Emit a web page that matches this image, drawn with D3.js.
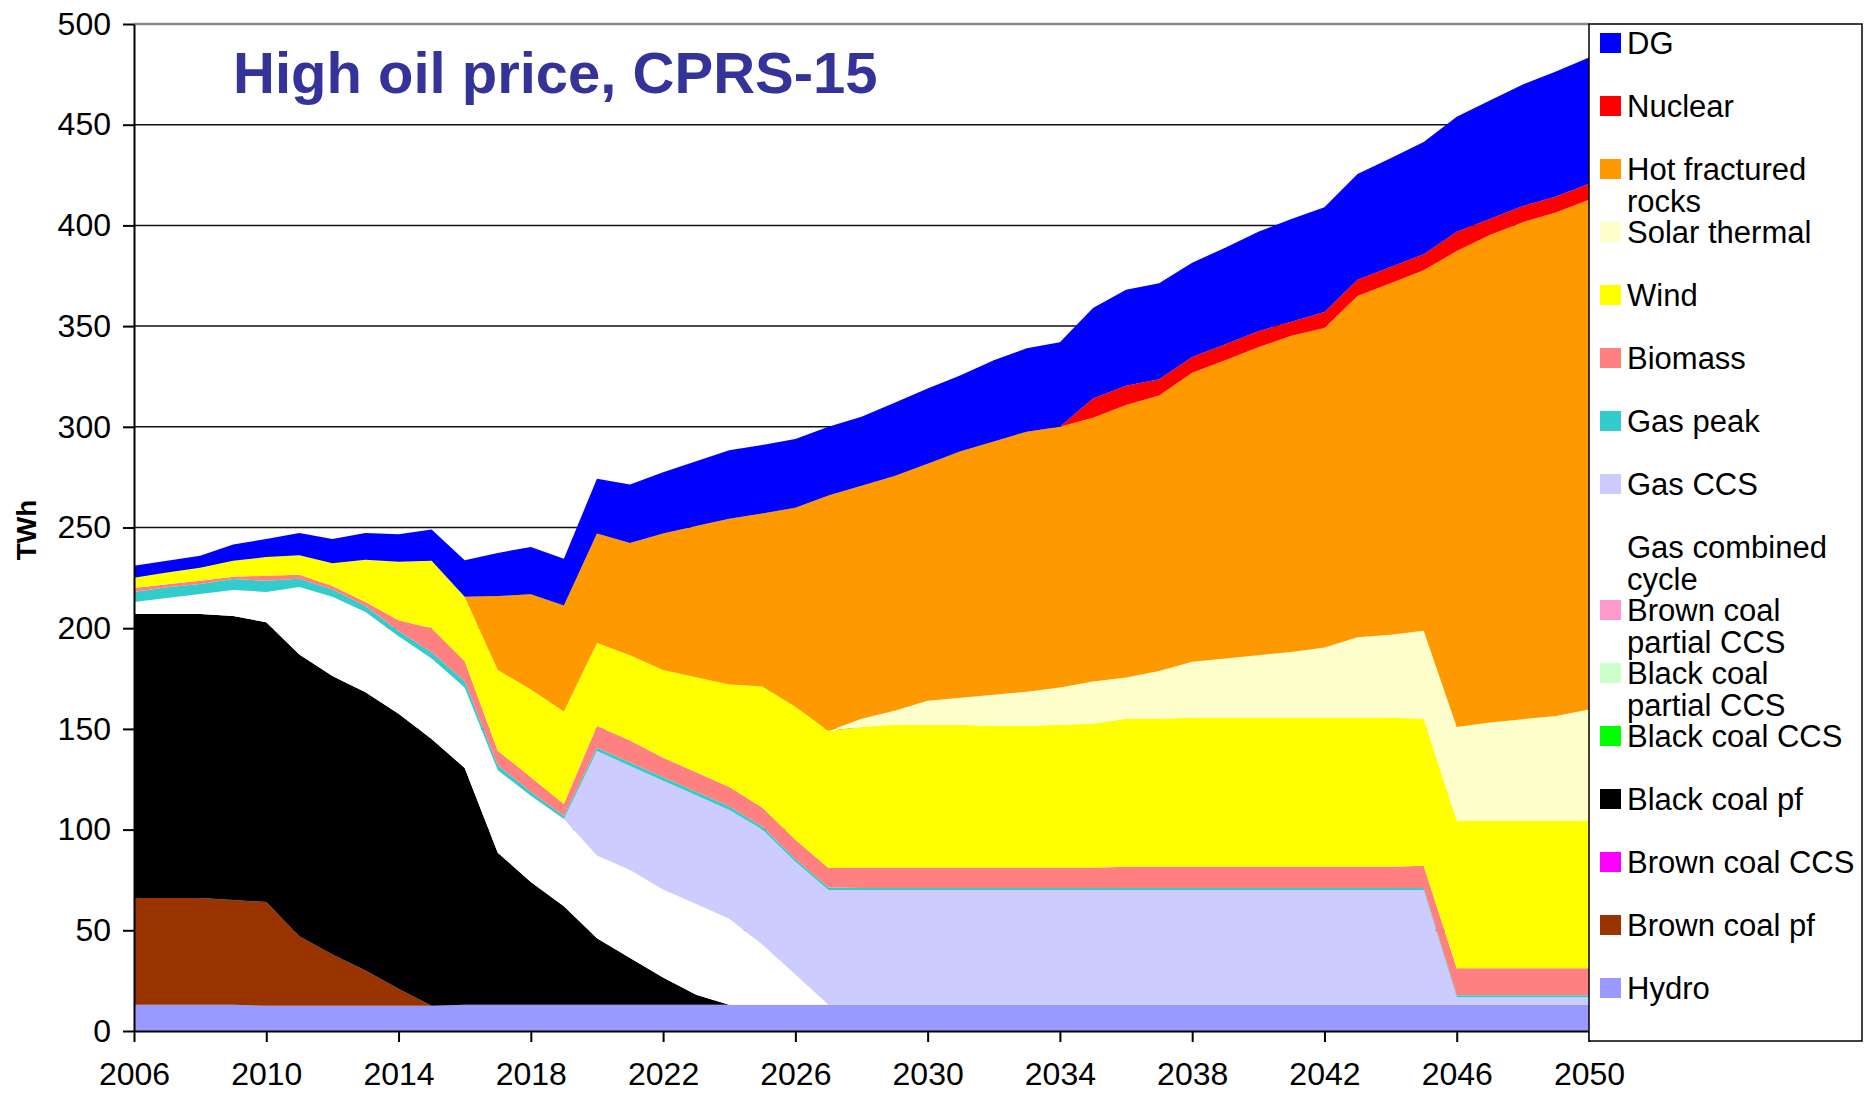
<!DOCTYPE html>
<meta charset="utf-8">
<style>
body { margin: 0; background: #fff; }
svg { display: block; font-family: "Liberation Sans", Arial, sans-serif; }
</style>
<body>
<script src="https://d3js.org/d3.v7.min.js"></script>
<script>

var width = 1876,
    height = 1093;

// data, TWh per year
var years = [2006, 2007, 2008, 2009, 2010, 2011, 2012, 2013, 2014, 2015,
             2016, 2017, 2018, 2019, 2020, 2021, 2022, 2023, 2024, 2025,
             2026, 2027, 2028, 2029, 2030, 2031, 2032, 2033, 2034, 2035,
             2036, 2037, 2038, 2039, 2040, 2041, 2042, 2043, 2044, 2045,
             2046, 2047, 2048, 2049, 2050];

var hydro = [13, 13, 13, 13, 12.5, 12.5, 12.5, 12.5, 12.5, 12.5,
             13, 13, 13, 13, 13, 13, 13, 13, 13, 13,
             13, 13, 13, 13, 13, 13, 13, 13, 13, 13,
             13, 13, 13, 13, 13, 13, 13, 13, 13, 13,
             13, 13, 13, 13, 13];
var brownPf = [53, 53, 53, 52, 51.5, 34.5, 25.5, 17.5, 8.5, 0,
               0, 0, 0, 0, 0, 0, 0, 0, 0, 0,
               0, 0, 0, 0, 0, 0, 0, 0, 0, 0,
               0, 0, 0, 0, 0, 0, 0, 0, 0, 0,
               0, 0, 0, 0, 0];
var brownCcs = [0, 0, 0, 0, 0, 0, 0, 0, 0, 0, 0, 0, 0, 0, 0, 0, 0, 0, 0, 0, 0, 0, 0,
                0, 0, 0, 0, 0, 0, 0, 0, 0, 0, 0, 0, 0, 0, 0, 0, 0, 0, 0, 0, 0, 0];
var blackPf = [141, 141, 141, 141, 139, 140, 138.3, 138.2, 136.5, 132.5,
               117.6, 75.5, 61, 49, 33, 23.3, 13.6, 5, 0, 0,
               0, 0, 0, 0, 0, 0, 0, 0, 0, 0,
               0, 0, 0, 0, 0, 0, 0, 0, 0, 0,
               0, 0, 0, 0, 0];
var blackCcs = [0, 0, 0, 0, 0, 0, 0, 0, 0, 0, 0, 0, 0, 0, 0, 0, 0, 0, 0, 0, 0, 0, 0,
                0, 0, 0, 0, 0, 0, 0, 0, 0, 0, 0, 0, 0, 0, 0, 0, 0, 0, 0, 0, 0, 0];
var blackPartial = [0, 0, 0, 0, 0, 0, 0, 0, 0, 0, 0, 0, 0, 0, 0, 0, 0, 0, 0, 0, 0, 0, 0,
                    0, 0, 0, 0, 0, 0, 0, 0, 0, 0, 0, 0, 0, 0, 0, 0, 0, 0, 0, 0, 0, 0];
var brownPartial = [0, 0, 0, 0, 0, 0, 0, 0, 0, 0, 0, 0, 0, 0, 0, 0, 0, 0, 0, 0, 0, 0, 0,
                    0, 0, 0, 0, 0, 0, 0, 0, 0, 0, 0, 0, 0, 0, 0, 0, 0, 0, 0, 0, 0, 0];
var gasCc = [6, 8, 10, 13, 15, 33.5, 39.3, 39.8, 38.5, 40,
             40, 41, 42.8, 43.3, 41.2, 43.7, 43.6, 45, 42.7, 30,
             15, 0, 0, 0, 0, 0, 0, 0, 0, 0,
             0, 0, 0, 0, 0, 0, 0, 0, 0, 0,
             0, 0, 0, 0, 0];
var gasCcs = [0, 0, 0, 0, 0, 0, 0, 0, 0, 0,
              0, 0, 0, 0, 51.8, 51.6, 54.1, 54, 54, 57,
              56, 57, 57, 57, 57, 57, 57, 57, 57, 57,
              57, 57, 57, 57, 57, 57, 57, 57, 57, 57,
              3.8, 3.8, 3.8, 3.8, 3.8];
var gasPeak = [5, 5.3, 5, 5.4, 5.5, 4, 3.6, 3, 2.6, 3,
               3, 2.4, 2, 1.4, 1.6, 1.7, 1.7, 1.8, 1.8, 1.5,
               1.4, 1.2, 1, 1, 1, 1, 1, 1, 1, 1,
               1, 1, 1, 1, 1, 1, 1, 1, 1, 1,
               1, 1, 1, 1, 1];
var biomass = [2, 1.5, 1.5, 1.2, 2.5, 2, 1.8, 2, 5.4, 12,
               10, 7.3, 7.2, 6, 10.9, 10.9, 9.7, 9.7, 9.7, 9.5,
               9.6, 9.7, 10, 10, 10, 10, 10, 10, 10, 10,
               10.5, 10.5, 10.5, 10.5, 10.5, 10.5, 10.5, 10.5, 10.5, 11,
               13.4, 13.4, 13.4, 13.4, 13.4];
var wind = [5, 5.8, 6.5, 7.9, 9.3, 9.7, 11.3, 21, 29, 33.5,
            32, 40.1, 43.6, 46, 41.1, 42.4, 43.6, 47.2, 50.8, 60,
            66, 68.1, 70, 71, 71, 71, 70.5, 70.5, 71, 71.5,
            73.5, 73.5, 74, 74, 74, 74, 74, 74, 74, 73,
            73.3, 73.3, 73.3, 73.3, 73.3];
var solar = [0, 0, 0, 0, 0, 0, 0, 0, 0, 0,
             0, 0, 0, 0, 0, 0, 0, 0, 0, 0,
             0, 0, 4, 7, 12, 13.5, 15.5, 17, 18.5, 21,
             20.5, 23.7, 27.9, 29.5, 31.1, 32.7, 34.9, 40, 41.3, 43.7,
             46.5, 48.7, 50.3, 51.9, 55.1];
var hfr = [0, 0, 0, 0, 0, 0, 0, 0, 0, 0,
           0, 36.7, 47.2, 52.6, 54.4, 55.7, 67.7, 75, 82.4, 86,
           98.8, 116.9, 115.7, 116.6, 117.7, 122.3, 125.7, 129.1, 129.5, 131,
           135.3, 136.9, 143.4, 148.1, 152.9, 157, 158.6, 169.5, 174.5, 179,
           236.3, 242, 246.8, 250, 253.1];
var nuclear = [0, 0, 0, 0, 0, 0, 0, 0, 0, 0,
               0, 0, 0, 0, 0, 0, 0, 0, 0, 0,
               0, 0, 0, 0, 0, 0, 0, 0, 0, 9.5,
               9.6, 8, 7.9, 7.9, 8, 7, 8, 8, 8, 8,
               9.5, 8, 8, 7.9, 8];
var dg = [6, 5.9, 6, 8.1, 9, 11.1, 12, 13.3, 13.6, 15.5,
          18.2, 21.4, 23.5, 23.2, 27.2, 29, 30.4, 32.2, 33.9, 34,
          34.2, 34.1, 34.3, 36.4, 37.3, 37.8, 40.3, 41.4, 42, 45,
          47.6, 47.7, 46.8, 47.9, 49.3, 51, 52, 52.5, 54.1, 55.7,
          57.2, 58.8, 60.4, 62.1, 62.7];

var yTicks = [0, 50, 100, 150, 200, 250, 300, 350, 400, 450, 500];
var xTicks = [2006, 2010, 2014, 2018, 2022, 2026, 2030, 2034, 2038, 2042, 2046, 2050];

// stack order, bottom first
var keys = ["hydro", "brownPf", "brownCcs", "blackPf", "blackCcs", "blackPartial",
            "brownPartial", "gasCc", "gasCcs", "gasPeak", "biomass", "wind",
            "solar", "hfr", "nuclear", "dg"];
var series = {hydro: hydro, brownPf: brownPf, brownCcs: brownCcs, blackPf: blackPf,
              blackCcs: blackCcs, blackPartial: blackPartial, brownPartial: brownPartial,
              gasCc: gasCc, gasCcs: gasCcs, gasPeak: gasPeak, biomass: biomass,
              wind: wind, solar: solar, hfr: hfr, nuclear: nuclear, dg: dg};
var labels = {dg: ["DG"], nuclear: ["Nuclear"], hfr: ["Hot fractured", "rocks"],
              solar: ["Solar thermal"], wind: ["Wind"], biomass: ["Biomass"],
              gasPeak: ["Gas peak"], gasCcs: ["Gas CCS"], gasCc: ["Gas combined", "cycle"],
              brownPartial: ["Brown coal", "partial CCS"], blackPartial: ["Black coal", "partial CCS"],
              blackCcs: ["Black coal CCS"], blackPf: ["Black coal pf"], brownCcs: ["Brown coal CCS"],
              brownPf: ["Brown coal pf"], hydro: ["Hydro"]};
var colors = {dg: "#0000ff", nuclear: "#ff0000", hfr: "#ff9900", solar: "#ffffcc",
              wind: "#ffff00", biomass: "#ff8080", gasPeak: "#33cccc", gasCcs: "#ccccff",
              gasCc: "#ffffff", brownPartial: "#ff99cc", blackPartial: "#ccffcc",
              blackCcs: "#00ff00", blackPf: "#000000", brownCcs: "#ff00ff",
              brownPf: "#993300", hydro: "#9999ff"};

var x = d3.scaleLinear().domain([2006, 2050]).range([134, 1589]);
var y = d3.scaleLinear().domain([0, 500]).range([1031, 24]);

var svg = d3.select("body").append("svg")
    .attr("width", width)
    .attr("height", height);

// gridlines (hidden behind the areas where they overlap)
svg.append("g").selectAll("line")
    .data(yTicks.slice(1))
    .enter().append("line")
    .attr("x1", x(2006)).attr("x2", x(2050))
    .attr("y1", function(d) { return y(d); })
    .attr("y2", function(d) { return y(d); })
    .attr("stroke", function(d) { return d === 500 ? "#8a8a8a" : "#111"; })
    .attr("stroke-width", function(d) { return d === 500 ? 2.5 : 1.5; });

var rows = years.map(function(yr, i) {
  var r = {year: yr};
  keys.forEach(function(k) { r[k] = series[k][i]; });
  return r;
});

var stacked = d3.stack().keys(keys)(rows);

var area = d3.area()
    .x(function(d) { return x(d.data.year); })
    .y0(function(d) { return y(d[0]); })
    .y1(function(d) { return y(d[1]); });

svg.append("g").selectAll("path")
    .data(stacked.filter(function(s) { return d3.max(series[s.key]) > 0; }))
    .enter().append("path")
    .attr("d", area)
    .attr("fill", function(d) { return colors[d.key]; });

// axes
var yAxis = svg.append("g")
    .attr("transform", "translate(" + x(2006) + ",0)")
    .call(d3.axisLeft(y).tickValues(yTicks).tickSize(11).tickSizeOuter(0).tickPadding(12));

var xAxis = svg.append("g")
    .attr("transform", "translate(0," + y(0) + ")")
    .call(d3.axisBottom(x).tickValues(xTicks).tickFormat(d3.format("d"))
      .tickSize(11).tickSizeOuter(0).tickPadding(20));

[yAxis, xAxis].forEach(function(g) {
  g.attr("font-family", null).attr("font-size", null);
  g.select(".domain").attr("stroke", "#000").attr("stroke-width", 2);
  g.selectAll(".tick line").attr("stroke", "#000").attr("stroke-width", 2);
  g.selectAll(".tick text").style("font-size", "32px").attr("fill", "#000");
});

svg.append("text")
    .attr("transform", "translate(36,530) rotate(-90)")
    .attr("text-anchor", "middle")
    .style("font-size", "28px")
    .style("font-weight", "bold")
    .text("TWh");

svg.append("text")
    .attr("x", 233)
    .attr("y", 93)
    .style("font-size", "58px")
    .style("font-weight", "bold")
    .attr("fill", "#333399")
    .text("High oil price, CPRS-15");

// legend
svg.append("rect")
    .attr("x", x(2050)).attr("y", 24)
    .attr("width", 273).attr("height", 1017)
    .attr("fill", "#fff")
    .attr("stroke", "#000")
    .attr("stroke-width", 1.5);

var legend = svg.selectAll("g.legendEntry")
    .data(keys.slice().reverse())
    .enter().append("g")
    .attr("class", "legendEntry")
    .attr("transform", function(d, i) { return "translate(1600," + (43 + i * 63) + ")"; });

legend.append("rect")
    .attr("x", 0).attr("y", -10)
    .attr("width", 21).attr("height", 20)
    .attr("fill", function(d) { return colors[d]; });

legend.append("text")
    .attr("x", 27)
    .attr("y", 11)
    .style("font-size", "31px")
    .selectAll("tspan")
    .data(function(d) { return labels[d]; })
    .enter().append("tspan")
    .attr("x", 27)
    .attr("dy", function(d, i) { return i ? 32 : 0; })
    .text(function(d) { return d; });

</script>
